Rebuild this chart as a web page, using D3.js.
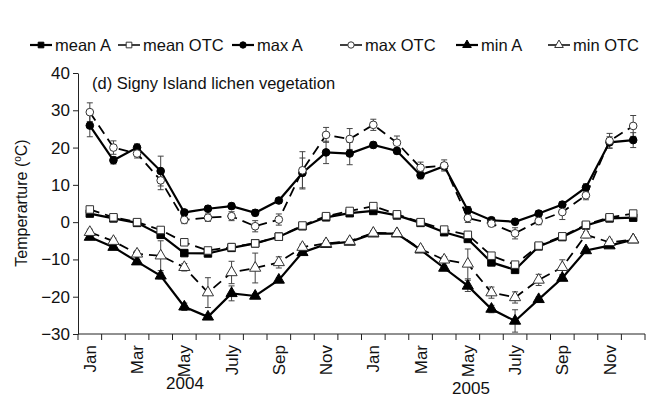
<!DOCTYPE html>
<html>
<head>
<meta charset="utf-8">
<script src="https://cdn.jsdelivr.net/npm/d3@7"></script>
<style>
body { margin: 0; background: #fff; }
text { font-family: "Liberation Sans", Arial, sans-serif; fill: #111; }
</style>
</head>
<body>
<svg id="chart" width="660" height="412"></svg>
<script>
// months Jan 2004 .. Dec 2005
var months = ["Jan","Feb","Mar","Apr","May","Jun","Jul","Aug","Sep","Oct","Nov","Dec",
              "Jan","Feb","Mar","Apr","May","Jun","Jul","Aug","Sep","Oct","Nov","Dec"];
var tickNames = {"Jan":"Jan","Mar":"Mar","May":"May","Jul":"July","Sep":"Sep","Nov":"Nov"};
var years = ["2004", "2005"];
var yTicks = [-30, -20, -10, 0, 10, 20, 30, 40];

var meanA    = [2.3, 1.0, -0.2, -3.4, -8.3, -8.4, -6.9, -5.7, -3.9, -1.1, 1.3, 2.4,
                3.0, 1.8, -0.2, -2.7, -4.5, -10.8, -12.8, -6.5, -4.0, -0.9, 1.0, 1.2];
var meanOTC  = [3.4, 1.3, 0.0, -2.1, -5.4, -7.6, -6.7, -5.7, -3.9, -0.9, 1.6, 3.0,
                4.3, 2.1, 0.0, -2.0, -3.4, -9.0, -11.4, -6.3, -3.8, -0.7, 1.3, 2.3];
var maxA     = [25.9, 16.6, 20.0, 13.7, 2.6, 3.6, 4.3, 2.5, 5.8, 13.2, 18.7, 18.4,
                20.7, 19.1, 12.6, 15.0, 3.2, 0.5, 0.1, 2.3, 4.7, 9.3, 21.4, 22.0];
var maxOTC   = [29.5, 20.0, 18.4, 11.2, 0.6, 1.2, 1.6, -1.1, 0.7, 13.9, 23.4, 22.3,
                26.1, 21.3, 14.6, 15.2, 1.1, -0.4, -3.0, 0.3, 2.7, 7.2, 21.8, 25.8];
var minA     = [-4.0, -6.7, -10.6, -14.4, -22.7, -25.4, -19.1, -19.8, -15.5, -8.1, -5.9, -5.3,
                -3.1, -3.1, -7.4, -12.3, -17.1, -23.3, -26.5, -20.7, -15.0, -7.6, -6.3, -4.7];
var minOTC   = [-2.7, -5.1, -8.5, -9.0, -12.1, -18.9, -13.5, -12.3, -10.8, -6.7, -5.7, -5.1,
                -2.9, -3.0, -7.2, -10.1, -11.2, -18.9, -20.2, -15.5, -12.1, -3.4, -5.4, -4.7];

// standard errors (half error bar)
var meanAErr   = [0.5,0.3,0.3,0.5,0.5,0.5,0.5,0.4,0.4,0.4,0.4,0.4, 0.4,0.4,0.4,0.4,0.5,0.6,0.6,0.5,0.4,0.4,0.4,0.4];
var meanOTCErr = [0.5,0.4,0.4,0.6,0.8,0.8,1.0,0.6,0.5,0.5,0.5,0.5, 0.5,0.5,0.5,0.5,0.6,0.8,0.8,0.6,0.6,0.5,0.5,0.5];
var maxAErr    = [3.0,1.0,1.0,4.0,0.8,0.8,0.8,0.8,0.8,4.0,3.0,3.0, 0.8,0.8,1.0,1.0,1.0,0.8,0.8,0.8,0.8,1.0,1.5,2.0];
var maxOTCErr  = [2.5,1.8,1.2,2.5,1.0,1.0,1.2,1.5,1.5,5.0,2.0,2.8, 1.5,1.8,1.5,1.5,1.2,0.8,1.5,1.0,2.0,1.2,2.0,2.8];
var minAErr    = [0.5,0.5,0.6,0.8,1.0,0.6,2.0,0.6,0.6,0.6,0.5,0.5, 0.5,0.5,0.5,0.6,1.5,1.0,3.0,0.6,0.6,0.6,0.5,0.5];
var minOTCErr  = [0.8,0.8,0.8,4.0,1.0,4.0,3.0,4.0,1.5,0.8,0.8,0.6, 0.6,0.6,0.6,0.8,4.0,1.5,1.5,1.5,2.0,0.8,0.8,0.6];

var series = [
  {name: "mean A",   vals: meanA,   err: meanAErr,   shape: "square",   filled: true},
  {name: "mean OTC", vals: meanOTC, err: meanOTCErr, shape: "square",   filled: false},
  {name: "max A",    vals: maxA,    err: maxAErr,    shape: "circle",   filled: true},
  {name: "max OTC",  vals: maxOTC,  err: maxOTCErr,  shape: "circle",   filled: false},
  {name: "min A",    vals: minA,    err: minAErr,    shape: "triangle", filled: true},
  {name: "min OTC",  vals: minOTC,  err: minOTCErr,  shape: "triangle", filled: false}
];

var svg = d3.select("#chart");
var plotLeft = 78, plotRight = 645, plotTop = 73, plotBottom = 334;

var x = d3.scaleBand().domain(d3.range(months.length)).range([plotLeft, plotRight]);
var y = d3.scaleLinear().domain([-30, 40]).range([plotBottom, plotTop]);

function cx(i){ return x(i) + x.bandwidth() / 2; }

function symbolFor(shape){
  if (shape == "square") return d3.symbol().type(d3.symbolSquare).size(56);
  if (shape == "circle") return d3.symbol().type(d3.symbolCircle).size(46);
  return d3.symbol().type(d3.symbolTriangle).size(54);
}

// y axis
var yAxis = svg.append("g").attr("transform", "translate(" + plotLeft + ",0)")
  .call(d3.axisLeft(y).tickValues(yTicks).tickSize(5).tickSizeOuter(0));
yAxis.select(".domain").attr("stroke", "#222");
yAxis.selectAll(".tick line").attr("stroke", "#222");
yAxis.selectAll("text").attr("font-size", 17).attr("x", -8)
  .style("font-family", "Liberation Sans, Arial, sans-serif").attr("fill", "#111");

// x axis: ticks at band edges
var xAxis = svg.append("g").attr("transform", "translate(0," + plotBottom + ")");
xAxis.append("line").attr("x1", plotLeft).attr("x2", plotRight).attr("stroke", "#222");
var edges = d3.range(months.length + 1).map(function(i){ return plotLeft + i * x.step(); });
xAxis.selectAll(".edge").data(edges).enter().append("line")
  .attr("x1", function(d){ return d; }).attr("x2", function(d){ return d; })
  .attr("y1", 0).attr("y2", 6).attr("stroke", "#222");

months.forEach(function(m, i){
  if (!tickNames[m]) return;
  svg.append("text")
    .attr("transform", "translate(" + (cx(i) + 6) + "," + (plotBottom + 11) + ") rotate(-90)")
    .attr("text-anchor", "end")
    .attr("font-size", 17)
    .text(tickNames[m]);
});

svg.append("text").attr("x", 185).attr("y", 389).attr("text-anchor", "middle")
  .attr("font-size", 17).text(years[0]);
svg.append("text").attr("x", 471).attr("y", 394).attr("text-anchor", "middle")
  .attr("font-size", 17).text(years[1]);

// y title
var yt = svg.append("text").attr("transform", "translate(27,203) rotate(-90)")
  .attr("text-anchor", "middle").attr("font-size", 16);
yt.append("tspan").text("Temperarture (");
yt.append("tspan").attr("font-size", 10).attr("dy", -6).text("o");
yt.append("tspan").attr("dy", 6).text("C)");

// panel title
svg.append("text").attr("x", 92).attr("y", 89).attr("font-size", 16.5)
  .text("(d) Signy Island lichen vegetation");

// draw series: error bars, then lines, then markers
var line = d3.line()
  .x(function(d, i){ return cx(i); })
  .y(function(d){ return y(d); });

series.forEach(function(s){
  var g = svg.append("g");
  s.vals.forEach(function(v, i){
    var px = cx(i);
    var y1 = y(v + s.err[i]), y2 = y(v - s.err[i]);
    g.append("line").attr("x1", px).attr("x2", px).attr("y1", y1).attr("y2", y2)
      .attr("stroke", "#444").attr("stroke-width", 1);
    g.append("line").attr("x1", px - 3).attr("x2", px + 3).attr("y1", y1).attr("y2", y1)
      .attr("stroke", "#444").attr("stroke-width", 1);
    g.append("line").attr("x1", px - 3).attr("x2", px + 3).attr("y1", y2).attr("y2", y2)
      .attr("stroke", "#444").attr("stroke-width", 1);
  });
});

series.forEach(function(s){
  svg.append("path").datum(s.vals).attr("d", line)
    .attr("fill", "none").attr("stroke", "#000")
    .attr("stroke-width", s.filled ? 2.2 : 1.8)
    .attr("stroke-dasharray", s.filled ? null : "10,6");
});

series.forEach(function(s){
  svg.append("g").selectAll("path").data(s.vals).enter().append("path")
    .attr("d", symbolFor(s.shape))
    .attr("transform", function(d, i){
      return "translate(" + cx(i) + "," + y(d) + ")";
    })
    .attr("fill", s.filled ? "#000" : "#fff")
    .attr("stroke", s.filled ? "#000" : "#333")
    .attr("stroke-width", 1);
});

// legend
var legendX = [30, 118, 232, 340, 456, 548];
series.forEach(function(s, i){
  var g = svg.append("g").attr("transform", "translate(" + legendX[i] + ",45)");
  g.append("line").attr("x1", 0).attr("x2", 22).attr("stroke", "#000")
    .attr("stroke-width", s.filled ? 2.2 : 1.5);
  g.append("path").attr("d", d3.symbol().type(s.shape == "square" ? d3.symbolSquare :
      (s.shape == "circle" ? d3.symbolCircle : d3.symbolTriangle)).size(32))
    .attr("transform", "translate(11,0)")
    .attr("fill", s.filled ? "#000" : "#fff").attr("stroke", s.filled ? "#000" : "#333");
  g.append("text").attr("x", 25).attr("y", 6).attr("font-size", 16.5).text(s.name);
});
</script>
</body>
</html>
